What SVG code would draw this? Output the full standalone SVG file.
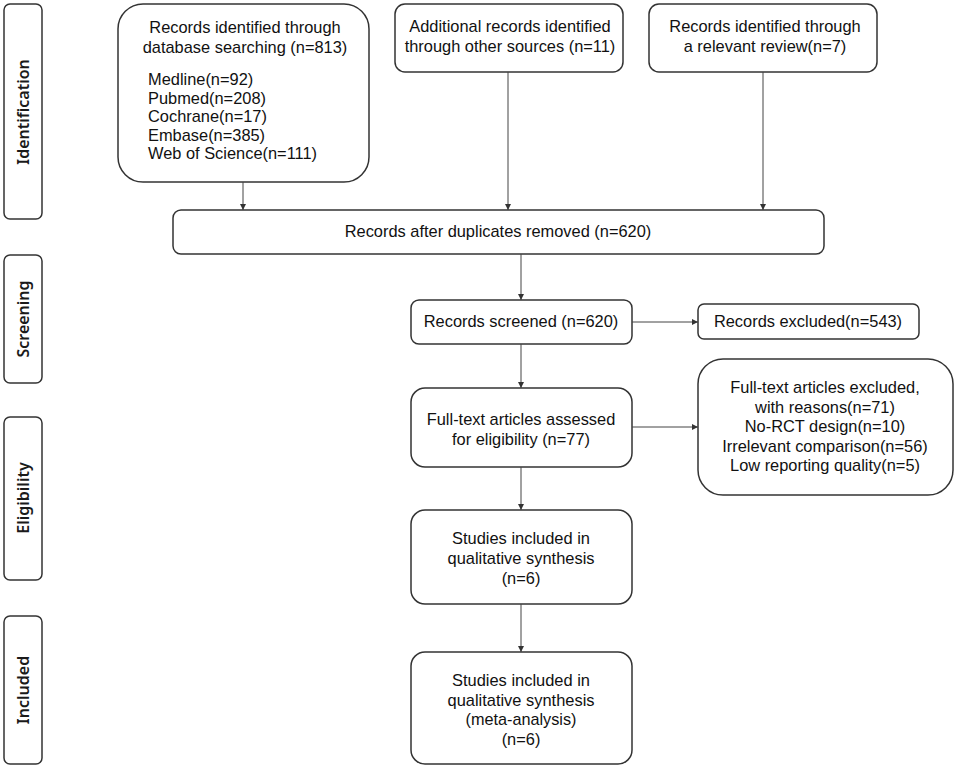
<svg xmlns="http://www.w3.org/2000/svg" width="957" height="768" viewBox="0 0 957 768">
<defs>
<marker id="ah" viewBox="0 0 10 10" refX="10" refY="5" markerWidth="6" markerHeight="6" orient="auto" markerUnits="userSpaceOnUse">
<path d="M0,0 L10,5 L0,10 z" fill="#333"/>
</marker>
<style>
.box{fill:#fff;stroke:#333;stroke-width:1.5}
.t{font-family:"Liberation Sans",Arial,sans-serif;font-size:16.4px;fill:#111;text-anchor:middle}
.l{text-anchor:start}
.side{font-family:"Noto Sans","Open Sans",sans-serif;font-size:16px;font-weight:600;fill:#1a1a1a;text-anchor:middle}
.ln{stroke:#444;stroke-width:1;fill:none;marker-end:url(#ah)}
</style>
</defs>
<rect width="957" height="768" fill="#fff"/>
<g id="phase-identification"><rect class="box" x="4" y="4" width="38" height="215" rx="6"/><text class="side" transform="translate(29,112) rotate(-90)">Identification</text></g>
<g id="phase-screening"><rect class="box" x="4" y="255" width="38" height="128" rx="6"/><text class="side" transform="translate(29,319) rotate(-90)">Screening</text></g>
<g id="phase-eligibility"><rect class="box" x="4" y="417" width="38" height="163" rx="6"/><text class="side" transform="translate(29,498) rotate(-90)">Eligibility</text></g>
<g id="phase-included"><rect class="box" x="4" y="616" width="38" height="148" rx="6"/><text class="side" transform="translate(29,690) rotate(-90)">Included</text></g>

<g id="n-database"><rect class="box" x="118" y="4" width="251" height="178" rx="25"/>
<text class="t" x="245" y="33">Records identified through</text>
<text class="t" x="245" y="53">database searching (n=813)</text>
<text class="t l" x="148" y="85">Medline(n=92)</text>
<text class="t l" x="148" y="103.5">Pubmed(n=208)</text>
<text class="t l" x="148" y="122">Cochrane(n=17)</text>
<text class="t l" x="148" y="140.5">Embase(n=385)</text>
<text class="t l" x="148" y="159">Web of Science(n=111)</text></g>
<g id="n-other"><rect class="box" x="395" y="4" width="228" height="68" rx="10"/>
<text class="t" x="510" y="32">Additional records identified</text>
<text class="t" x="510" y="52">through other sources (n=11)</text></g>
<g id="n-review"><rect class="box" x="649" y="4" width="228" height="68" rx="10"/>
<text class="t" x="765" y="32">Records identified through</text>
<text class="t" x="765" y="52">a relevant review(n=7)</text></g>
<g id="n-dup"><rect class="box" x="173" y="210" width="651" height="44" rx="8"/>
<text class="t" x="498" y="237">Records after duplicates removed (n=620)</text></g>
<g id="n-screened"><rect class="box" x="411" y="300" width="221" height="44" rx="8"/>
<text class="t" x="521" y="327">Records screened (n=620)</text></g>
<g id="n-excl"><rect class="box" x="698" y="304" width="221" height="35" rx="6"/>
<text class="t" x="808" y="327">Records excluded(n=543)</text></g>
<g id="n-fulltext"><rect class="box" x="411" y="388" width="221" height="79" rx="14"/>
<text class="t" x="521" y="425">Full-text articles assessed</text>
<text class="t" x="521" y="445">for eligibility (n=77)</text></g>
<g id="n-ftexcl"><rect class="box" x="698" y="359" width="255" height="136" rx="25"/>
<text class="t" x="825" y="393">Full-text articles excluded,</text>
<text class="t" x="825" y="412.5">with reasons(n=71)</text>
<text class="t" x="825" y="432">No-RCT design(n=10)</text>
<text class="t" x="825" y="451.5">Irrelevant comparison(n=56)</text>
<text class="t" x="825" y="471">Low reporting quality(n=5)</text></g>
<g id="n-qual"><rect class="box" x="411" y="510" width="221" height="94" rx="14"/>
<text class="t" x="521" y="544" textLength="138" lengthAdjust="spacingAndGlyphs">Studies included in</text>
<text class="t" x="521" y="564" textLength="147" lengthAdjust="spacingAndGlyphs">qualitative synthesis</text>
<text class="t" x="521" y="584">(n=6)</text></g>
<g id="n-meta"><rect class="box" x="411" y="652" width="221" height="112" rx="14"/>
<text class="t" x="521" y="686" textLength="138" lengthAdjust="spacingAndGlyphs">Studies included in</text>
<text class="t" x="521" y="705.5" textLength="147" lengthAdjust="spacingAndGlyphs">qualitative synthesis</text>
<text class="t" x="521" y="725" textLength="111" lengthAdjust="spacingAndGlyphs">(meta-analysis)</text>
<text class="t" x="521" y="744.5">(n=6)</text></g>

<g id="connectors">
<line class="ln" x1="243" y1="182" x2="243" y2="210"/>
<line class="ln" x1="508" y1="72" x2="508" y2="210"/>
<line class="ln" x1="763" y1="72" x2="763" y2="210"/>
<line class="ln" x1="521" y1="254" x2="521" y2="300"/>
<line class="ln" x1="632" y1="322" x2="698" y2="322"/>
<line class="ln" x1="521" y1="344" x2="521" y2="388"/>
<line class="ln" x1="632" y1="427" x2="698" y2="427"/>
<line class="ln" x1="521" y1="467" x2="521" y2="510"/>
<line class="ln" x1="521" y1="604" x2="521" y2="652"/>
</g>
</svg>
